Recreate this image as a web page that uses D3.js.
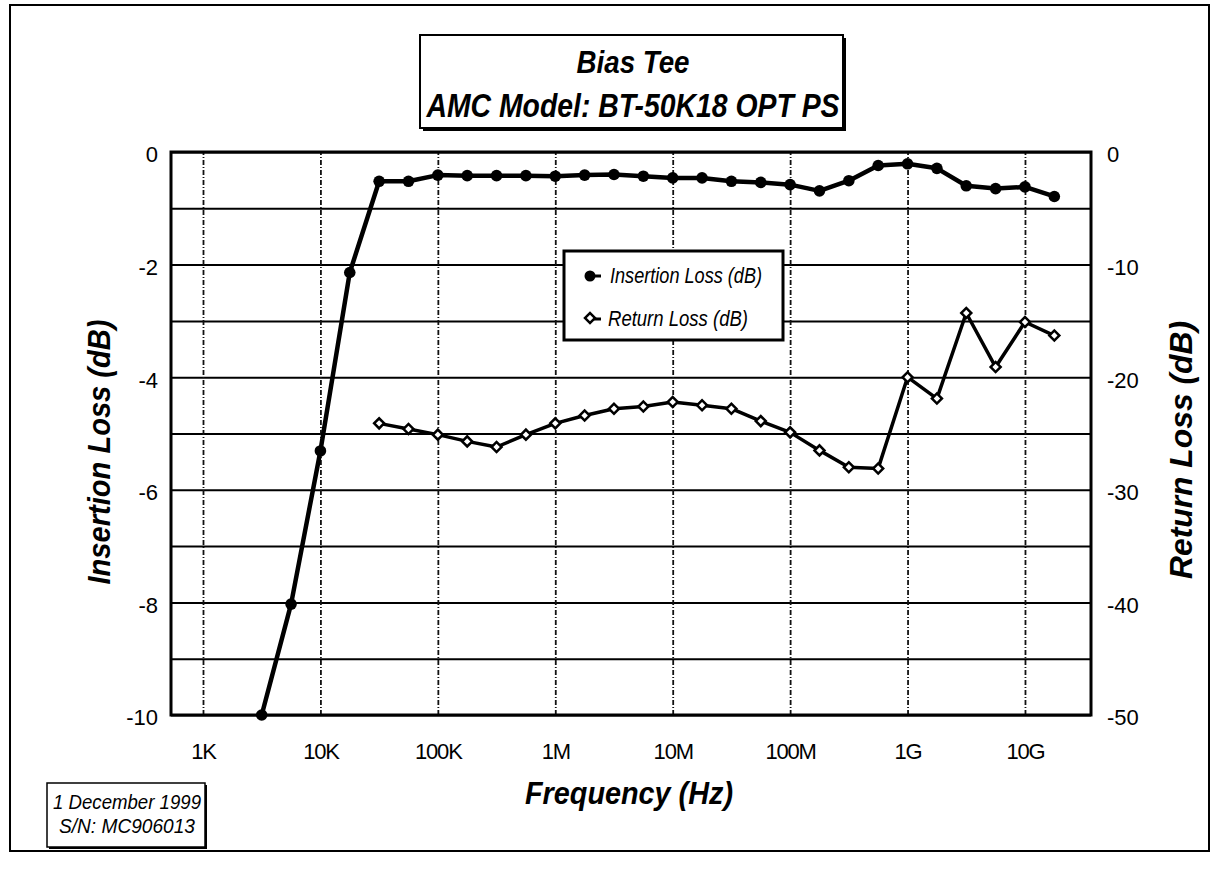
<!DOCTYPE html>
<html>
<head>
<meta charset="utf-8">
<script src="https://cdn.jsdelivr.net/npm/d3@7"></script>
<style>
  body { margin: 0; background: #fff; }
  svg { font-family: "Liberation Sans", Arial, sans-serif; }
</style>
</head>
<body>
<svg id="chart"></svg>
<script>
// measured points, 4 per decade
const freqHz = [3162, 5623, 10000, 17783, 31623, 56234, 100000, 177828, 316228, 562341,
  1e6, 1778279, 3162278, 5623413, 1e7, 17782794, 31622777, 56234133, 1e8, 177827941,
  316227766, 562341325, 1e9, 1778279410, 3162277660, 5623413252, 1e10, 17782794100];
const insertionLoss = [-10, -8.03, -5.31, -2.14, -0.52, -0.52, -0.41, -0.42, -0.42, -0.42,
  -0.43, -0.41, -0.40, -0.43, -0.46, -0.46, -0.52, -0.54, -0.58, -0.69,
  -0.51, -0.24, -0.21, -0.29, -0.60, -0.65, -0.62, -0.79];

const rlFreqHz = [31623, 56234, 100000, 177828, 316228, 562341, 1e6, 1778279, 3162278, 5623413,
  1e7, 17782794, 31622777, 56234133, 1e8, 177827941, 316227766, 562341325,
  1e9, 1778279410, 3162277660, 5623413252, 1e10, 17782794100];
const returnLoss = [-24.1, -24.6, -25.1, -25.7, -26.2, -25.1, -24.1, -23.4, -22.8, -22.6,
  -22.2, -22.5, -22.8, -23.9, -24.9, -26.5, -28.0, -28.1,
  -20.0, -21.9, -14.3, -19.1, -15.1, -16.3];

const xTickValues = [1e3, 1e4, 1e5, 1e6, 1e7, 1e8, 1e9, 1e10];
const xTickLabels = ["1K", "10K", "100K", "1M", "10M", "100M", "1G", "10G"];
const leftTicks = [0, -2, -4, -6, -8, -10];
const leftGrid = [0, -1, -2, -3, -4, -5, -6, -7, -8, -9, -10];
const rightTicks = [0, -10, -20, -30, -40, -50];

const width = 1217, height = 873;
const plot = { left: 171, right: 1091, top: 152, bottom: 715 };

const svg = d3.select("#chart").attr("width", width).attr("height", height);
svg.append("rect").attr("width", width).attr("height", height).attr("fill", "#fff");

// outer frame
svg.append("rect")
  .attr("x", 10).attr("y", 5).attr("width", 1199).attr("height", 846)
  .attr("fill", "none").attr("stroke", "#000").attr("stroke-width", 2);

let x = d3.scaleLog().domain([534, 3.65e10]).range([plot.left, plot.right]);
let yL = d3.scaleLinear().domain([-10, 0]).range([plot.bottom, plot.top]);
let yR = d3.scaleLinear().domain([-50, 0]).range([plot.bottom, plot.top]);

// grid
let hGrid = svg.append("g")
  .attr("transform", "translate(" + plot.left + ",0)")
  .call(d3.axisLeft(yL).tickValues(leftGrid).tickSize(-(plot.right - plot.left)).tickFormat(""));
hGrid.select(".domain").remove();
hGrid.selectAll("line").attr("stroke", "#000").attr("stroke-width", 2);

let vGrid = svg.append("g")
  .attr("transform", "translate(0," + plot.bottom + ")")
  .call(d3.axisBottom(x).tickValues(xTickValues).tickSize(-(plot.bottom - plot.top)).tickFormat(""));
vGrid.select(".domain").remove();
vGrid.selectAll("line").attr("stroke", "#111").attr("stroke-width", 1.8)
  .attr("stroke-dasharray", "5,2,1,2");

// plot frame
svg.append("rect")
  .attr("x", plot.left).attr("y", plot.top)
  .attr("width", plot.right - plot.left).attr("height", plot.bottom - plot.top)
  .attr("fill", "none").attr("stroke", "#000").attr("stroke-width", 3);

// axes labels
let xAxis = svg.append("g")
  .attr("transform", "translate(0," + plot.bottom + ")")
  .call(d3.axisBottom(x).tickValues(xTickValues).tickSize(0).tickPadding(28)
    .tickFormat((d, i) => xTickLabels[i]));
xAxis.select(".domain").remove();
xAxis.selectAll("text").attr("font-size", 22).attr("letter-spacing", -1.2)
  .attr("font-family", "Liberation Sans, Arial").attr("fill", "#000");

let yAxisL = svg.append("g")
  .attr("transform", "translate(" + plot.left + ",0)")
  .call(d3.axisLeft(yL).tickValues(leftTicks).tickSize(0).tickPadding(13).tickFormat(d => String(d)));
yAxisL.select(".domain").remove();
yAxisL.selectAll("text").attr("font-size", 22).attr("dy", "0.45em")
  .attr("font-family", "Liberation Sans, Arial").attr("fill", "#000");

let yAxisR = svg.append("g")
  .attr("transform", "translate(" + plot.right + ",0)")
  .call(d3.axisRight(yR).tickValues(rightTicks).tickSize(0).tickPadding(16).tickFormat(d => String(d)));
yAxisR.select(".domain").remove();
yAxisR.selectAll("text").attr("font-size", 22).attr("dy", "0.45em")
  .attr("font-family", "Liberation Sans, Arial").attr("fill", "#000");

// axis titles
svg.append("text")
  .attr("transform", "translate(110,452) rotate(-90)")
  .attr("text-anchor", "middle").attr("font-size", 31).attr("font-weight", "bold")
  .attr("font-style", "italic").attr("textLength", 265).attr("lengthAdjust", "spacingAndGlyphs")
  .text("Insertion Loss (dB)");

svg.append("text")
  .attr("transform", "translate(1192,450) rotate(-90)")
  .attr("text-anchor", "middle").attr("font-size", 31).attr("font-weight", "bold")
  .attr("font-style", "italic").attr("textLength", 258).attr("lengthAdjust", "spacingAndGlyphs")
  .text("Return Loss (dB)");

svg.append("text")
  .attr("x", 629).attr("y", 804)
  .attr("text-anchor", "middle").attr("font-size", 31).attr("font-weight", "bold")
  .attr("font-style", "italic").attr("textLength", 208).attr("lengthAdjust", "spacingAndGlyphs")
  .text("Frequency (Hz)");

// title box
svg.append("rect").attr("x", 423).attr("y", 38).attr("width", 423).attr("height", 93).attr("fill", "#000");
svg.append("rect")
  .attr("x", 420).attr("y", 35).attr("width", 423).attr("height", 93)
  .attr("fill", "#fff").attr("stroke", "#000").attr("stroke-width", 2);
svg.append("text")
  .attr("x", 633).attr("y", 73).attr("text-anchor", "middle")
  .attr("font-size", 31).attr("font-weight", "bold").attr("font-style", "italic")
  .attr("textLength", 113).attr("lengthAdjust", "spacingAndGlyphs")
  .text("Bias Tee");
svg.append("text")
  .attr("x", 633).attr("y", 117).attr("text-anchor", "middle")
  .attr("font-size", 33).attr("font-weight", "bold").attr("font-style", "italic")
  .attr("textLength", 413).attr("lengthAdjust", "spacingAndGlyphs")
  .text("AMC Model: BT-50K18 OPT PS");

// lines
let ilData = freqHz.map((f, i) => ({ f: f, v: insertionLoss[i] }));
let rlData = rlFreqHz.map((f, i) => ({ f: f, v: returnLoss[i] }));

let ilLine = d3.line().x(d => x(d.f)).y(d => yL(d.v));
let rlLine = d3.line().x(d => x(d.f)).y(d => yR(d.v));

svg.append("path").datum(rlData).attr("d", rlLine)
  .attr("fill", "none").attr("stroke", "#000").attr("stroke-width", 3.5).attr("stroke-linejoin", "round");
svg.append("path").datum(ilData).attr("d", ilLine)
  .attr("fill", "none").attr("stroke", "#000").attr("stroke-width", 4.5).attr("stroke-linejoin", "round");

// diamond = square turned 45 degrees
let diamond = d3.symbol().type(d3.symbolSquare).size(50);

svg.selectAll(".rl").data(rlData).enter().append("path")
  .attr("class", "rl")
  .attr("transform", d => "translate(" + x(d.f) + "," + yR(d.v) + ") rotate(45)")
  .attr("d", diamond)
  .attr("fill", "#fff").attr("stroke", "#000").attr("stroke-width", 2.5);

svg.selectAll(".il").data(ilData).enter().append("circle")
  .attr("class", "il")
  .attr("cx", d => x(d.f)).attr("cy", d => yL(d.v)).attr("r", 5.8)
  .attr("fill", "#000");

// legend
let legend = svg.append("g");
legend.append("rect")
  .attr("x", 564).attr("y", 251).attr("width", 219).attr("height", 89)
  .attr("fill", "#fff").attr("stroke", "#000").attr("stroke-width", 3);
legend.append("line").attr("x1", 588).attr("x2", 601).attr("y1", 276).attr("y2", 276)
  .attr("stroke", "#000").attr("stroke-width", 3);
legend.append("circle").attr("cx", 590).attr("cy", 276).attr("r", 5.5).attr("fill", "#000");
legend.append("line").attr("x1", 588).attr("x2", 601).attr("y1", 319).attr("y2", 319)
  .attr("stroke", "#000").attr("stroke-width", 3);
legend.append("path").attr("transform", "translate(590,318) rotate(45)").attr("d", diamond)
  .attr("fill", "#fff").attr("stroke", "#000").attr("stroke-width", 2.5);
legend.append("text")
  .attr("x", 610).attr("y", 283).attr("font-size", 22).attr("font-style", "italic")
  .attr("textLength", 152).attr("lengthAdjust", "spacingAndGlyphs")
  .text("Insertion Loss (dB)");
legend.append("text")
  .attr("x", 608).attr("y", 326).attr("font-size", 22).attr("font-style", "italic")
  .attr("textLength", 140).attr("lengthAdjust", "spacingAndGlyphs")
  .text("Return Loss (dB)");

// date box
svg.append("rect").attr("x", 49).attr("y", 785).attr("width", 158).attr("height", 64).attr("fill", "#000");
svg.append("rect")
  .attr("x", 47).attr("y", 783).attr("width", 158).attr("height", 64)
  .attr("fill", "#fff").attr("stroke", "#000").attr("stroke-width", 1.5);
svg.append("text")
  .attr("x", 127).attr("y", 809).attr("text-anchor", "middle")
  .attr("font-size", 20).attr("font-style", "italic")
  .attr("textLength", 148).attr("lengthAdjust", "spacingAndGlyphs")
  .text("1 December 1999");
svg.append("text")
  .attr("x", 127).attr("y", 833).attr("text-anchor", "middle")
  .attr("font-size", 20).attr("font-style", "italic")
  .attr("textLength", 136).attr("lengthAdjust", "spacingAndGlyphs")
  .text("S/N: MC906013");
</script>
</body>
</html>
